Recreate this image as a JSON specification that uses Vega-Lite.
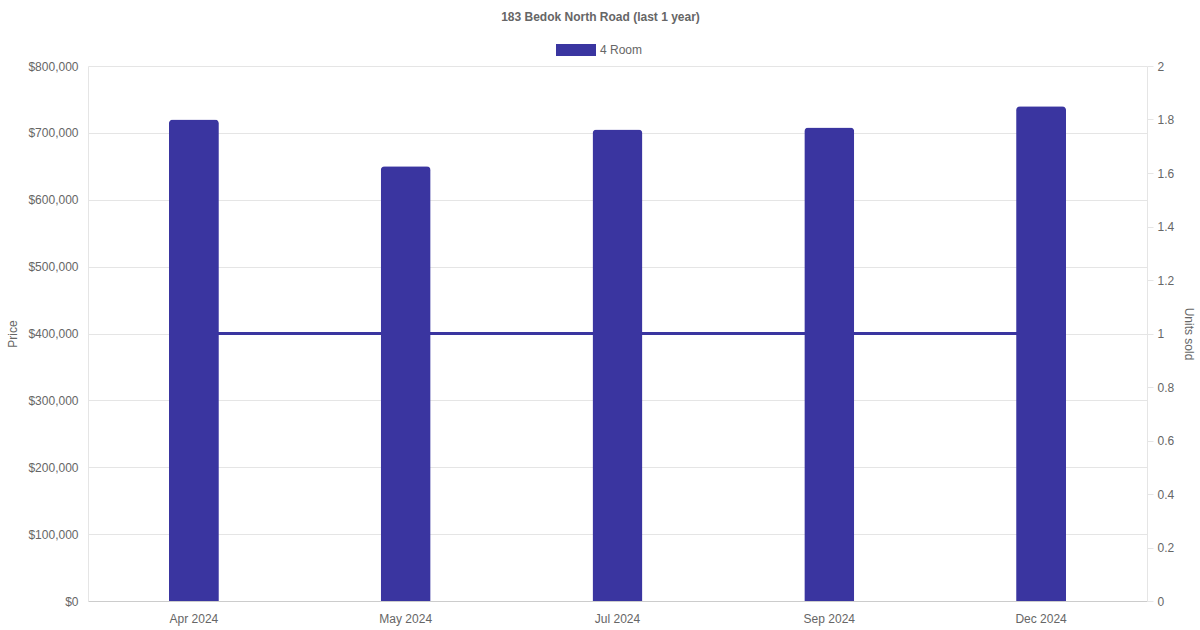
{
  "$schema": "https://vega.github.io/schema/vega-lite/v6.json",
  "autosize": {"type": "none"},
  "width": 1059,
  "height": 535,
  "padding": {"left": 88, "top": 66, "right": 53, "bottom": 29},
  "background": "white",
  "title": {
    "text": "183 Bedok North Road (last 1 year)",
    "font": "Liberation Sans",
    "fontSize": 12,
    "fontWeight": "bold",
    "color": "#666666",
    "anchor": "middle",
    "offset": 6,
    "dx": -17
  },
  "config": {
    "view": {"stroke": null},
    "font": "Liberation Sans",
    "axis": {
      "labelFont": "Liberation Sans",
      "labelFontSize": 12,
      "labelColor": "#666666",
      "titleFont": "Liberation Sans",
      "titleFontSize": 12,
      "titleFontWeight": "normal",
      "titleColor": "#666666",
      "gridColor": "#e5e5e5",
      "domainColor": "#e5e5e5",
      "tickColor": "#e5e5e5"
    }
  },
  "data": {
    "values": [
      {"month": "Apr 2024", "price": 720000, "units": 1, "type": "4 Room"},
      {"month": "May 2024", "price": 650000, "units": 1, "type": "4 Room"},
      {"month": "Jul 2024", "price": 705000, "units": 1, "type": "4 Room"},
      {"month": "Sep 2024", "price": 708000, "units": 1, "type": "4 Room"},
      {"month": "Dec 2024", "price": 740000, "units": 1, "type": "4 Room"}
    ]
  },
  "encoding": {
    "x": {
      "field": "month",
      "type": "nominal",
      "sort": null,
      "scale": {"paddingInner": 0, "paddingOuter": 0},
      "axis": {
        "title": null,
        "labelAngle": 0,
        "ticks": false,
        "grid": false,
        "labelPadding": 12,
        "domainColor": "#cccccc"
      }
    }
  },
  "layer": [
    {
      "mark": {
        "type": "bar",
        "size": 50,
        "opacity": 0,
        "tooltip": false
      },
      "encoding": {
        "y": {
          "field": "price",
          "type": "quantitative",
          "scale": {"domain": [0, 800000], "nice": false},
          "axis": {
            "orient": "left",
            "title": "Price",
            "values": [0, 100000, 200000, 300000, 400000, 500000, 600000, 700000, 800000],
            "format": "$,.0f",
            "grid": true,
            "ticks": false,
            "labelPadding": 10,
            "titlePadding": 8
          }
        }
      }
    },
    {
      "mark": {"type": "line", "color": "#3a35a0", "strokeWidth": 3},
      "encoding": {
        "y": {
          "field": "units",
          "type": "quantitative",
          "scale": {"domain": [0, 2], "nice": false},
          "axis": {
            "orient": "right",
            "title": "Units sold",
            "values": [0, 0.2, 0.4, 0.6, 0.8, 1, 1.2, 1.4, 1.6, 1.8, 2],
            "format": ".2~f",
            "grid": false,
            "ticks": true,
            "tickSize": 6,
            "labelPadding": 4,
            "titlePadding": 8
          }
        }
      }
    },
    {
      "mark": {
        "type": "bar",
        "size": 50,
        "cornerRadiusTopLeft": 4,
        "cornerRadiusTopRight": 4
      },
      "encoding": {
        "y": {
          "field": "price",
          "type": "quantitative",
          "scale": {"domain": [0, 800000], "nice": false},
          "axis": null
        },
        "color": {
          "field": "type",
          "type": "nominal",
          "scale": {"domain": ["4 Room"], "range": ["#3a35a0"]},
          "legend": {
            "title": null,
            "orient": "none",
            "legendX": 468,
            "legendY": -36,
            "symbolType": "M-1,-0.3L1,-0.3L1,0.3L-1,0.3Z",
            "symbolSize": 1600,
            "symbolStrokeWidth": 0,
            "labelFont": "Liberation Sans",
            "labelFontSize": 12,
            "labelColor": "#666666"
          }
        }
      }
    }
  ],
  "resolve": {"scale": {"y": "independent"}}
}
